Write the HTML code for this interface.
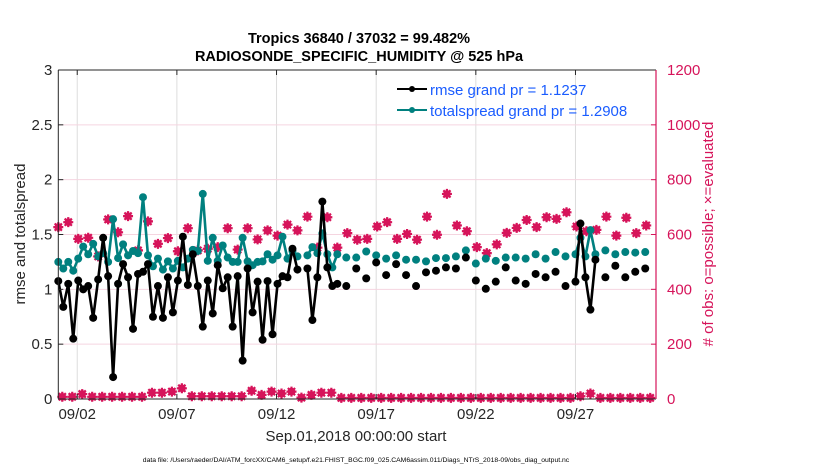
<!DOCTYPE html>
<html><head><meta charset="utf-8"><style>
html,body{margin:0;padding:0;background:#fff;}
svg{display:block;font-family:"Liberation Sans",Arial,sans-serif;}
</style></head><body>
<svg id="chart" width="830" height="470" viewBox="0 0 830 470">
<text x="359" y="43" text-anchor="middle" font-size="14.5" font-weight="bold" fill="#000">Tropics 36840 / 37032 = 99.482%</text>
<text x="359" y="61" text-anchor="middle" font-size="14.5" font-weight="bold" fill="#000">RADIOSONDE_SPECIFIC_HUMIDITY @ 525 hPa</text>
<g id="grid"></g>
<g id="marks"></g>
<g id="axes"></g>
<text transform="translate(25,234) rotate(-90)" text-anchor="middle" font-size="15" fill="#262626">rmse and totalspread</text>
<text transform="translate(713,234) rotate(-90)" text-anchor="middle" font-size="15" fill="#d6145a"># of obs: o=possible; ×=evaluated</text>
<text x="356" y="441" text-anchor="middle" font-size="15" fill="#262626">Sep.01,2018 00:00:00 start</text>
<text x="356" y="462" text-anchor="middle" font-size="6.8" fill="#000">data file: /Users/raeder/DAI/ATM_forcXX/CAM6_setup/f.e21.FHIST_BGC.f09_025.CAM6assim.011/Diags_NTrS_2018-09/obs_diag_output.nc</text>
<g>
<line x1="397" y1="89" x2="427" y2="89" stroke="#000" stroke-width="2"/><circle cx="412" cy="89" r="3" fill="#000"/>
<text x="430" y="95" font-size="15" fill="#1a5cff">rmse grand pr = 1.1237</text>
<line x1="397" y1="110" x2="427" y2="110" stroke="#00807f" stroke-width="2"/><circle cx="412" cy="110" r="3" fill="#00807f"/>
<text x="430" y="116" font-size="15" fill="#1a5cff">totalspread grand pr = 1.2908</text>
</g>
</svg>
<script>
const rmse6 = [1.075,0.84,1.05,0.55,1.08,1.0,1.03,0.74,1.09,1.47,1.12,0.20,1.05,1.23,1.11,0.64,1.14,1.16,1.23,0.75,1.03,0.74,1.11,0.79,1.08,1.48,1.04,1.32,1.03,0.66,1.08,0.78,1.22,1.01,1.11,0.66,1.12,0.35,1.19,0.79,1.07,0.54,1.075,0.59,1.05,1.12,1.11,1.37,1.18,null,1.19,0.72,1.11,1.80,1.20,1.03,1.05];
const spread6 = [1.25,1.19,1.25,1.17,1.28,1.39,1.32,1.415,1.30,1.33,1.25,1.64,1.285,1.41,1.31,1.35,1.33,1.84,1.31,1.21,1.28,1.18,1.255,1.19,1.26,1.20,1.28,1.36,1.35,1.87,1.26,1.47,1.26,1.40,1.29,1.25,1.25,1.47,1.255,1.22,1.25,1.255,1.32,1.27,1.31,1.48,1.28,1.35,1.30,null,1.31,1.385,1.33,1.51,1.32,1.20,1.32];
const lateDays = [14.5,15,15.5,16,16.5,17,17.5,18,18.5,19,19.5,20,20.5,21,21.5,22,22.5,23,23.5,24,24.5,25,25.5,26,26.25,26.5,26.75,27,27.5,28,28.5,29,29.5];
const rmseLate = [1.03,1.19,1.10,1.245,1.13,1.23,1.13,1.03,1.155,1.17,1.20,1.19,1.29,1.08,1.005,1.07,1.20,1.08,1.05,1.14,1.11,1.16,1.03,1.07,1.60,1.11,0.815,1.27,1.11,1.215,1.11,1.16,1.19];
const spreadLate = [1.29,1.29,1.345,1.31,1.28,1.31,1.27,1.27,1.255,1.285,1.285,1.30,1.355,1.235,1.28,1.26,1.29,1.29,1.28,1.32,1.28,1.34,1.30,1.32,1.47,1.30,1.54,1.32,1.355,1.32,1.34,1.335,1.34];
const obsPossible = [627,645,584,588,520,655,608,667,542,648,566,587,539,623,542,548,554,623,545,623,582,615,596,636,615,665,552,663,552,605,581,584,629,645,584,602,581,665,599,748,633,612,554,532,564,606,624,653,627,663,657,681,629,612,617,665,596,661,605,633];
const obsLow = [8,8,18,8,8,8,8,8,8,23,23,27,39,10,10,10,10,10,10,30,15,27,20,27,5,15,23,23,4,4,4,4,4,4,4,4,4,4,4,4,4,4,4,4,4,4,4,4,4,4,4,4,10,20,4,4,4,4,4,4];
const leftTicks = [0,0.5,1,1.5,2,2.5,3];
const rightTicks = [0,200,400,600,800,1000,1200];
const xTickDays = [1,6,11,16,21,26];
const xTickLabels = ["09/02","09/07","09/12","09/17","09/22","09/27"];

const NS="http://www.w3.org/2000/svg";
const X0=58.3,X1=656,Y0=399,Y1=70;
const xs = d => 57.3 + 19.93*d;
const yL = v => Y0 - (v/3)*(Y0-Y1);
const yR = v => Y0 - (v/1200)*(Y0-Y1);
function mk(tag, attrs, parent){const e=document.createElementNS(NS,tag);for(const k in attrs)e.setAttribute(k,attrs[k]);parent.appendChild(e);return e;}
const grid=document.getElementById('grid'), marks=document.getElementById('marks'), axes=document.getElementById('axes');

mk('rect',{x:X0,y:Y1,width:X1-X0,height:Y0-Y1,fill:'#fff'},grid);
xTickDays.forEach((d,i)=>{
  const x=xs(d);
  const g=mk('line',{x1:x,y1:Y1,x2:x,y2:Y0,stroke:'#dcdcdc','stroke-width':1},grid);
  
  
  mk('line',{x1:x,y1:Y0,x2:x,y2:Y0-5,stroke:'#262626','stroke-width':1},axes);
  mk('line',{x1:x,y1:Y1,x2:x,y2:Y1+5,stroke:'#262626','stroke-width':1},axes);
  const t=mk('text',{x:x,y:Y0+20,'text-anchor':'middle','font-size':15,fill:'#262626'},axes);
  t.textContent=xTickLabels[i];
  
  
});
rightTicks.forEach(v=>{
  const y=yR(v);
  if(v>0&&v<1200){const g=mk('line',{x1:X0,y1:y,x2:X1,y2:y,stroke:'#f5d5e0','stroke-width':1},grid);
    
    }
  mk('line',{x1:X1,y1:y,x2:X1-5,y2:y,stroke:'#d6145a','stroke-width':1},axes);
  const t=mk('text',{x:X1+11,y:y+5,'font-size':15,fill:'#d6145a'},axes);
  t.textContent=String(v);
  
  
});
leftTicks.forEach(v=>{
  const y=yL(v);
  mk('line',{x1:X0,y1:y,x2:X0+5,y2:y,stroke:'#262626','stroke-width':1},axes);
  const t=mk('text',{x:X0-6,y:y+5,'text-anchor':'end','font-size':15,fill:'#262626'},axes);
  t.textContent=String(v);
  
  
});
mk('line',{x1:X0,y1:Y0,x2:X1,y2:Y0,stroke:'#262626','stroke-width':1},axes);
mk('line',{x1:X0,y1:Y1,x2:X1,y2:Y1,stroke:'#262626','stroke-width':1},axes);
mk('line',{x1:X0,y1:Y1,x2:X0,y2:Y0,stroke:'#262626','stroke-width':1},axes);
mk('line',{x1:X1,y1:Y1,x2:X1,y2:Y0,stroke:'#d6145a','stroke-width':1.2},axes);

function series(vals6, lateVals){
  const pts=[];
  vals6.forEach((v,i)=>pts.push([0.05+0.25*i,v]));
  lateDays.forEach((d,i)=>pts.push([d,lateVals[i]]));
  return pts;
}
function drawRed(d,v,name){
  const x=xs(d),y=yR(v);
  const g=mk('g',{},marks);
  
  
  mk('circle',{cx:x,cy:y,r:3.8,fill:'#d6145a'},g);
  mk('path',{d:`M${x-5} ${y}H${x+5}M${x} ${y-5}V${y+5}M${x-3.6} ${y-3.6}L${x+3.6} ${y+3.6}M${x-3.6} ${y+3.6}L${x+3.6} ${y-3.6}`,stroke:'#d6145a','stroke-width':2.2},g);
}
obsPossible.forEach((v,k)=>drawRed(0.05+0.5*k,v,'obs-possible-marker'));
obsLow.forEach((v,k)=>drawRed(0.25+0.5*k,v,'obs-evaluated-marker'));

function drawSeries(pts,color,name){
  let dstr='';let prev=null;
  pts.forEach(p=>{
    if(p[1]===null){prev=null;return;}
    if(prev && p[0]-prev[0]<=0.26) dstr+=`L${xs(p[0])} ${yL(p[1])}`;
    else dstr+=`M${xs(p[0])} ${yL(p[1])}`;
    prev=p;
  });
  const l=mk('path',{d:dstr,fill:'none',stroke:color,'stroke-width':2.6,'stroke-linejoin':'round'},marks);
  
  
  pts.forEach(p=>{
    if(p[1]===null)return;
    const c=mk('circle',{cx:xs(p[0]),cy:yL(p[1]),r:4,fill:color},marks);
    
    
  });
}
drawSeries(series(spread6,spreadLate),'#00807f','totalspread');
drawSeries(series(rmse6,rmseLate),'#000','rmse');
</script>
</body></html>
